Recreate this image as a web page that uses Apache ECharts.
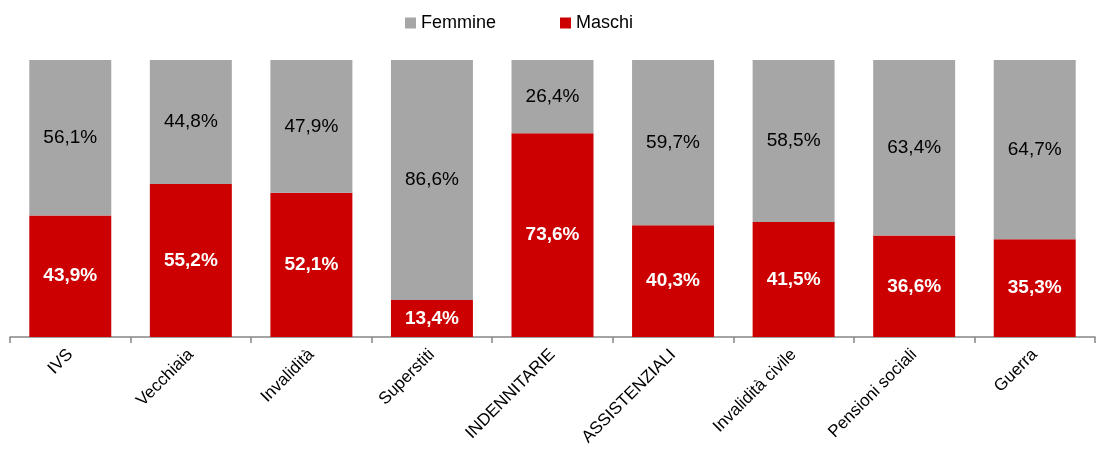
<!DOCTYPE html>
<html style="height: 100%">
<head>
    <meta charset="UTF-8">
    <title>Pensioni per sesso</title>
    <script type="text/javascript" src="https://cdn.jsdelivr.net/npm/echarts@6/dist/echarts.min.js"></script>
</head>
<body style="height: 100%; margin: 0; background: #fff">
    <div id="container" style="width: 1103px; height: 450px"></div>
    <script type="text/javascript">
        var categories = ['IVS', 'Vecchiaia', 'Invalidità', 'Superstiti', 'INDENNITARIE', 'ASSISTENZIALI', 'Invalidità civile', 'Pensioni sociali', 'Guerra'];
        var maschi = [43.9, 55.2, 52.1, 13.4, 73.6, 40.3, 41.5, 36.6, 35.3];
        var femmine = [56.1, 44.8, 47.9, 86.6, 26.4, 59.7, 58.5, 63.4, 64.7];

        var font = '"Liberation Sans", Arial, sans-serif';
        function pct(p) {
            return p.value.toFixed(1).replace('.', ',') + '%';
        }

        var myChart = echarts.init(document.getElementById('container'));
        var option = {
            animation: false,
            textStyle: { fontFamily: font },
            legend: {
                top: 9,
                left: 400,
                itemWidth: 11,
                itemHeight: 11,
                itemGap: 64,
                icon: 'rect',
                textStyle: { fontSize: 18, color: '#000', fontFamily: font },
                data: ['Femmine', 'Maschi']
            },
            grid: { left: 10, right: 8, top: 60, bottom: 113 },
            xAxis: {
                type: 'category',
                data: categories,
                axisLine: { lineStyle: { color: '#868686', width: 1.5 } },
                axisTick: { show: true, length: 6, lineStyle: { color: '#868686', width: 1.5 } },
                axisLabel: {
                    rotate: 45,
                    interval: 0,
                    fontSize: 17,
                    color: '#000',
                    fontFamily: font,
                    margin: 15
                }
            },
            yAxis: {
                type: 'value',
                min: 0,
                max: 100,
                show: false
            },
            series: [
                {
                    name: 'Maschi',
                    type: 'bar',
                    stack: 'tot',
                    barCategoryGap: '32%',
                    data: maschi,
                    itemStyle: { color: '#CC0000' },
                    label: {
                        show: true,
                        position: 'inside',
                        formatter: pct,
                        color: '#fff',
                        fontWeight: 'bold',
                        fontSize: 19,
                        fontFamily: font
                    }
                },
                {
                    name: 'Femmine',
                    type: 'bar',
                    stack: 'tot',
                    barCategoryGap: '32%',
                    data: femmine,
                    itemStyle: { color: '#A6A6A6' },
                    label: {
                        show: true,
                        position: 'inside',
                        formatter: pct,
                        color: '#000',
                        fontSize: 19,
                        fontFamily: font
                    }
                }
            ]
        };
        myChart.setOption(option);
    </script>
</body>
</html>
